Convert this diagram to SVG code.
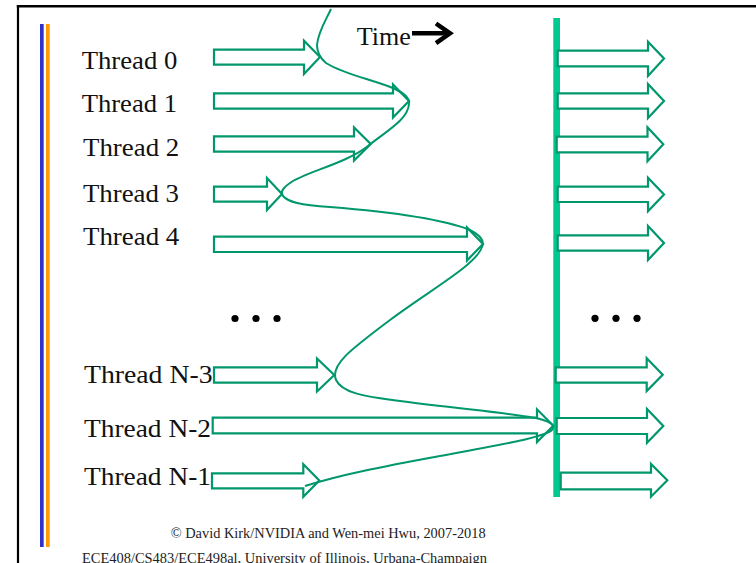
<svg xmlns="http://www.w3.org/2000/svg" width="756" height="563" viewBox="0 0 756 563">
  <style>
    .lbl { font-family: "Liberation Serif", "Times New Roman", serif; font-size: 25px; fill: #111; }
    .foot { font-family: "Liberation Serif", "Times New Roman", serif; font-size: 14px; fill: #222; }
    .arr { fill: #ffffff; stroke: #00976C; stroke-width: 2.2; stroke-linejoin: miter; }
    .wave { fill: none; stroke: #00976C; stroke-width: 2; }
    .dot { fill: #000; }
  </style>

  <rect width="756" height="563" fill="#ffffff"/>

  <!-- slide frame -->
  <g id="frame">
    <line x1="16.8" y1="6.2" x2="756" y2="6.2" stroke="#000" stroke-width="2.5"/>
    <line x1="18" y1="5" x2="18" y2="563" stroke="#000" stroke-width="2.2"/>
    <rect x="40" y="24" width="3.7" height="523" fill="#3232C8"/>
    <rect x="46" y="24" width="3.7" height="523" fill="#FF9A00"/>
  </g>

  <!-- time axis -->
  <g id="time">
    <text class="lbl" x="356.7" y="45" font-size="24" textLength="54" lengthAdjust="spacingAndGlyphs">Time</text>
    <line x1="412" y1="33.3" x2="448" y2="33.3" stroke="#000" stroke-width="4.5"/>
    <polyline points="436,23.5 450,33.3 436,43.1" fill="none" stroke="#000" stroke-width="4.5" stroke-linejoin="miter"/>
  </g>

  <!-- barrier -->
  <g id="barrier">
    <rect x="553.3" y="18" width="6.7" height="479" fill="#00C98F"/>
  </g>

  <!-- threads before the barrier -->
  <g id="thread0">
    <text class="lbl" x="81.7" y="69.3" textLength="95.6" lengthAdjust="spacingAndGlyphs">Thread 0</text>
    <path class="arr" d="M214,49.7 H304 V40.7 L320,57 L304,74 V64.7 H214 Z"/>
  </g>
  <g id="thread1">
    <text class="lbl" x="81.7" y="111.5" textLength="95.3" lengthAdjust="spacingAndGlyphs">Thread 1</text>
    <path class="arr" d="M214,93.3 H393 V84.5 L409,101 L393,117.5 V108.7 H214 Z"/>
  </g>
  <g id="thread2">
    <text class="lbl" x="83" y="156" textLength="96.3" lengthAdjust="spacingAndGlyphs">Thread 2</text>
    <path class="arr" d="M214,136.3 H354 V127.5 L370.7,144 L354,160.5 V151.7 H214 Z"/>
  </g>
  <g id="thread3">
    <text class="lbl" x="83" y="201.7" textLength="96" lengthAdjust="spacingAndGlyphs">Thread 3</text>
    <path class="arr" d="M214,186.7 H267 V178 L282,194 L267,210 V201.7 H214 Z"/>
  </g>
  <g id="thread4">
    <text class="lbl" x="83" y="245" textLength="96.3" lengthAdjust="spacingAndGlyphs">Thread 4</text>
    <path class="arr" d="M214,236.7 H467 V227.5 L483,244 L467,260.5 V252 H214 Z"/>
  </g>

  <g id="gap-left">
    <circle class="dot" cx="235" cy="318.5" r="3.6"/>
    <circle class="dot" cx="256" cy="318.5" r="3.6"/>
    <circle class="dot" cx="277" cy="318.5" r="3.6"/>
  </g>

  <g id="threadN-3">
    <text class="lbl" x="84" y="382.5" textLength="128.5" lengthAdjust="spacingAndGlyphs">Thread N-3</text>
    <path class="arr" d="M214,367.3 H317 V358.5 L334.3,375 L317,391.5 V382.7 H214 Z"/>
  </g>
  <g id="threadN-2">
    <text class="lbl" x="84" y="437.3" textLength="127" lengthAdjust="spacingAndGlyphs">Thread N-2</text>
    <path class="arr" d="M212.7,417.7 H537 V409.3 L553.3,425.7 L537,442 V433.3 H212.7 Z"/>
  </g>
  <g id="threadN-1">
    <text class="lbl" x="84" y="485" textLength="127" lengthAdjust="spacingAndGlyphs">Thread N-1</text>
    <path class="arr" d="M212,473.3 H303.3 V464.3 L319.3,480.5 L303.3,496.7 V488.3 H212 Z"/>
  </g>

  <!-- threads after the barrier -->
  <g id="after">
    <path class="arr" d="M557.7,50.7 H648 V41.7 L664,58.5 L648,76 V66.3 H557.7 Z"/>
    <path class="arr" d="M557.7,93.3 H648 V84 L664,101 L648,118 V108.7 H557.7 Z"/>
    <path class="arr" d="M556.7,136.7 H647.5 V127.3 L663.3,144.3 L647.5,161.3 V152.3 H556.7 Z"/>
    <path class="arr" d="M557.7,186.7 H648 V177.7 L664,194.5 L648,211.3 V202 H557.7 Z"/>
    <path class="arr" d="M557.7,235.3 H648 V226 L664,243 L648,260 V250.7 H557.7 Z"/>
    <path class="arr" d="M555.7,367.3 H646.7 V358.3 L662.7,374.7 L646.7,391 V382.7 H555.7 Z"/>
    <path class="arr" d="M556.7,418 H647 V409 L663.3,426 L647,442.7 V434 H556.7 Z"/>
    <path class="arr" d="M560.7,472.7 H651 V464 L667.3,480.3 L651,496.7 V489.3 H560.7 Z"/>
  </g>

  <g id="gap-right">
    <circle class="dot" cx="595" cy="318.3" r="3.6"/>
    <circle class="dot" cx="616" cy="318.3" r="3.6"/>
    <circle class="dot" cx="637" cy="318.3" r="3.6"/>
  </g>

  <!-- progress curve through the arrow tips -->
  <g id="connectors">
    <path class="wave" d="M331,9 C326,20 318,32 317,45 C317,53 320,58 326,63 C345,75 375,80 395,89 C405,94 410,98 409,104 C408,120 385,132 368,146 C345,164 305,172 290,183 C283,188 280,192 283,196 C288,202 300,205 330,207 C380,211 440,218 470,230 C480,235 485,240 482,247 C476,265 430,290 390,320 C350,350 330,365 336,380 C342,392 360,396 400,401 C460,409 520,414 540,419 C550,422 556,425 552,430 C545,437 500,445 440,456 C380,467 340,475 305,486"/>
  </g>

  <g id="footer">
    <text class="foot" x="170.7" y="538.3" textLength="315" lengthAdjust="spacingAndGlyphs">© David Kirk/NVIDIA and Wen-mei Hwu, 2007-2018</text>
    <text class="foot" x="82" y="563" textLength="405" lengthAdjust="spacingAndGlyphs">ECE408/CS483/ECE498al, University of Illinois, Urbana-Champaign</text>
  </g>
</svg>
